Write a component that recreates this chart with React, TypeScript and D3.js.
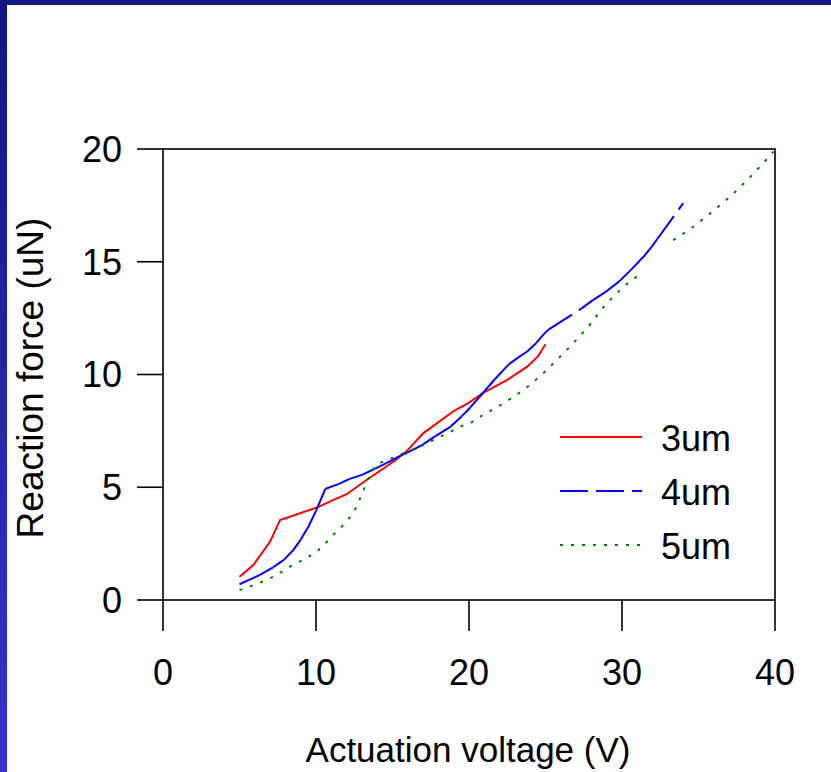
import React from "react";
import * as d3 from "d3";

// ---- Data ----
const xTicks = [0, 10, 20, 30, 40];
const yTicks = [0, 5, 10, 15, 20];
const seriesNames = ["3um", "4um", "5um"];

const volt3um = [5.0, 5.9, 7.0, 7.65, 10.05, 11.1, 12.0, 13.3, 15.05, 15.9, 17.0, 19.0, 20.0, 20.9, 22.5, 23.8, 24.5, 25.0];
const force3um = [1.03, 1.55, 2.59, 3.55, 4.1, 4.43, 4.69, 5.32, 6.13, 6.58, 7.39, 8.38, 8.75, 9.17, 9.76, 10.35, 10.8, 11.34];

const volt4um = [5.0, 6.3, 7.2, 7.9, 8.5, 9.0, 9.5, 10.0, 10.6, 11.5, 12.2, 13.0, 13.8, 14.6, 15.5, 16.3, 17.0, 17.8, 18.8, 19.5, 20.1, 20.9, 21.7, 22.6, 23.2, 23.8, 24.4, 24.9, 25.19, 27.36, 28.1, 28.9, 29.8, 30.6, 31.4, 31.95, 32.32, 34.0];
const force4um = [0.7, 1.1, 1.45, 1.78, 2.2, 2.68, 3.25, 3.95, 4.92, 5.15, 5.37, 5.55, 5.8, 6.07, 6.39, 6.65, 6.9, 7.27, 7.69, 8.13, 8.55, 9.17, 9.8, 10.45, 10.75, 11.02, 11.4, 11.8, 11.99, 12.93, 13.3, 13.65, 14.12, 14.65, 15.22, 15.67, 16.02, 17.6];

const volt5um = [5.0, 6.0, 6.8, 7.6, 8.3, 9.2, 10.05, 10.6, 11.0, 11.5, 12.0, 12.4, 12.66, 13.0, 13.3, 13.6, 13.97, 15.0, 15.7, 17.0, 18.0, 18.8, 19.4, 20.1, 20.9, 22.0, 23.1, 24.0, 24.86, 25.6, 26.4, 27.1, 27.8, 28.4, 29.0, 29.6, 30.1, 30.96, 32.0, 33.35, 34.0, 34.66, 35.5, 36.4, 37.4, 38.4, 39.2, 39.9];
const force5um: (number | null)[] = [0.44, 0.68, 0.89, 1.18, 1.48, 1.8, 2.14, 2.5, 2.81, 3.13, 3.47, 3.85, 4.14, 4.7, 5.17, 5.65, 6.02, 6.3, 6.5, 6.87, 7.2, 7.46, 7.69, 7.85, 8.2, 8.62, 9.09, 9.55, 10.05, 10.55, 11.09, 11.6, 12.12, 12.65, 13.16, 13.55, 13.9, 14.34, null, 15.96, 16.25, 16.55, 17.0, 17.5, 18.1, 18.77, 19.35, 19.88];

type Pt = { v: number; f: number | null };
const zip = (vs: number[], fs: (number | null)[]): Pt[] => vs.map((v, i) => ({ v, f: fs[i] }));

const W = 831;
const H = 772;
const FONT = "'Liberation Sans', Arial, sans-serif";

export default function App() {
  const x = d3.scaleLinear().domain([0, 40]).range([163, 775]);
  const y = d3.scaleLinear().domain([0, 20]).range([600, 149]);

  const line = d3
    .line<Pt>()
    .defined((d) => d.f !== null)
    .x((d) => x(d.v))
    .y((d) => y(d.f as number));

  const red = zip(volt3um, force3um);
  const blue = zip(volt4um, force4um);
  const green = zip(volt5um, force5um);

  // blue dashed line: pattern restarts on every segment
  const blueSegs = d3.pairs(blue);

  const legendRows = [
    { name: seriesNames[0], color: "#ff0000", dash: "none" },
    { name: seriesNames[1], color: "#0000ff", dash: "28,8" },
    { name: seriesNames[2], color: "#008000", dash: "3,8" },
  ];

  return (
    <svg
      width={W}
      height={H}
      style={{ position: "absolute", left: 0, top: 0, background: "#fff" }}
    >
      <defs>
        <linearGradient id="sideGrad" x1="0" y1="0" x2="0" y2="1">
          <stop offset="0%" stopColor="#14147e" />
          <stop offset="100%" stopColor="#3535cc" />
        </linearGradient>
      </defs>
      <rect x={0} y={0} width={W} height={H} fill="#fff" />
      <rect x={0} y={0} width={W} height={5} fill="#161684" />
      <rect x={0} y={0} width={7} height={H} fill="url(#sideGrad)" />

      {/* frame */}
      <rect x={x(0)} y={y(20)} width={x(40) - x(0)} height={y(0) - y(20)} fill="none" stroke="#000" strokeWidth={1.6} />

      {/* y ticks */}
      {yTicks.map((t) => (
        <g key={"y" + t}>
          <line x1={x(0) - 26} x2={x(0)} y1={y(t)} y2={y(t)} stroke="#000" strokeWidth={1.6} />
          <text x={122} y={y(t) + 12.8} textAnchor="end" fontSize={36} fontFamily={FONT} fill="#000">
            {t}
          </text>
        </g>
      ))}
      {/* x ticks */}
      {xTicks.map((t) => (
        <g key={"x" + t}>
          <line x1={x(t)} x2={x(t)} y1={y(0)} y2={y(0) + 31} stroke="#000" strokeWidth={1.6} />
          <text x={x(t)} y={685} textAnchor="middle" fontSize={36} fontFamily={FONT} fill="#000">
            {t}
          </text>
        </g>
      ))}

      {/* series */}
      <path d={line(red) || ""} fill="none" stroke="#ff0000" strokeWidth={2} />
      {blueSegs.map(([a, b], i) => (
        <path
          key={"b" + i}
          d={line([a, b]) || ""}
          fill="none"
          stroke="#0000ff"
          strokeWidth={2}
          strokeDasharray="28,8"
        />
      ))}
      <path d={line(green) || ""} fill="none" stroke="#008000" strokeWidth={2} strokeDasharray="3,8" />

      {/* legend */}
      {legendRows.map((r, i) => {
        const ly = 437 + i * 54;
        return (
          <g key={r.name}>
            <line x1={560} x2={642} y1={ly} y2={ly} stroke={r.color} strokeWidth={2} strokeDasharray={r.dash} />
            <text x={661} y={ly + 14} fontSize={36} fontFamily={FONT} fill="#000">
              {r.name}
            </text>
          </g>
        );
      })}

      {/* axis titles */}
      <text x={468} y={762} textAnchor="middle" fontSize={35} fontFamily={FONT} fill="#000">
        Actuation voltage (V)
      </text>
      <text
        transform={`translate(43, 378) rotate(-90)`}
        textAnchor="middle"
        fontSize={37}
        fontFamily={FONT}
        fill="#000"
      >
        Reaction force (uN)
      </text>
    </svg>
  );
}
